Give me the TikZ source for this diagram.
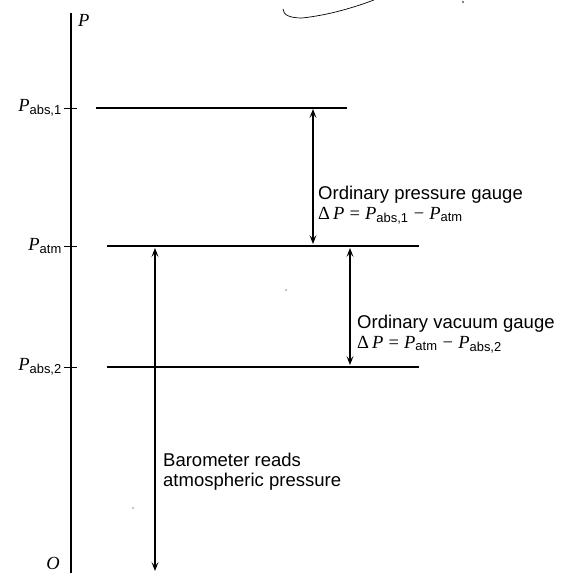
\documentclass[tikz,border=0pt]{standalone}
\usepackage{fontspec}
\setmainfont{Liberation Sans}
\newfontfamily\serifP{Liberation Serif}
\usetikzlibrary{arrows.meta}
\newcommand\Pv{{\serifP\itshape P}}
\newcommand\PP[1]{\Pv\textsubscript{#1}}
\newcommand\mrel[1]{{\serifP #1}}
\begin{document}
\begin{tikzpicture}[x=1pt,y=-1pt,
  level/.style={line width=1.7pt},
  axisline/.style={line width=1.2pt},
  tickmark/.style={line width=0.9pt},
  gauge/.style={line width=1.1pt,{Stealth[length=9pt,width=7pt,inset=4pt]}-{Stealth[length=9pt,width=7pt,inset=4pt]}},
  lbl/.style={font=\fontsize{18.5}{20}\selectfont, inner sep=0pt},
  axlbl/.style={font=\fontsize{18.5}{20}\selectfont, inner sep=0pt, anchor=east}]
\useasboundingbox (0,0) rectangle (566,573);
% axis
\coordinate (axtop) at (71,13);
\coordinate (axbot) at (71,573);
\draw[axisline] (axtop) -- (axbot);
\node[lbl, anchor=west] (Plbl) at (78,20) {\Pv};
% levels
\coordinate (p1L) at (96,108);   \coordinate (p1R) at (347,108);
\coordinate (paL) at (107,246);  \coordinate (paR) at (419,246);
\coordinate (p2L) at (107,367);  \coordinate (p2R) at (419,367);
\draw[level] (p1L) -- (p1R);
\draw[level] (paL) -- (paR);
\draw[level] (p2L) -- (p2R);
% ticks
\foreach \yy in {108,246,367} \draw[tickmark] (64,\yy) -- (77,\yy);
\node[axlbl] (l1) at (62,108) {\PP{abs,1}};
\node[axlbl] (la) at (62,246) {\PP{atm}};
\node[axlbl] (l2) at (62,367) {\PP{abs,2}};
\node[axlbl] (lO) at (60,563) {{\serifP\itshape O}};
% gauge arrows
\coordinate (g1t) at (313,109); \coordinate (g1b) at (313,244);
\draw[gauge] (g1t) -- (g1b);
\coordinate (g2t) at (350,248); \coordinate (g2b) at (350,365);
\draw[gauge] (g2t) -- (g2b);
\coordinate (g3t) at (155,248); \coordinate (g3b) at (155,571);
\draw[gauge] (g3t) -- (g3b);
% texts
\node[lbl, anchor=west, align=left] (t1) at (318,205) {Ordinary pressure gauge\\ \mrel{Δ}\,\Pv\ \mrel{=} \PP{abs,1} \mrel{−} \PP{atm}};
\node[lbl, anchor=west, align=left] (t2) at (357,334) {Ordinary vacuum gauge\\ \mrel{Δ}\,\Pv\ \mrel{=} \PP{atm} \mrel{−} \PP{abs,2}};
\node[lbl, anchor=west, align=left] (t3) at (163,472) {Barometer reads\\ atmospheric pressure};
% scan marks
\draw[line width=0.7pt] (283,9) .. controls (283,15) and (290,18) .. (302,18) .. controls (330,15) and (355,7) .. (374,0);
\fill (463,2) circle (0.8pt);
\fill (286,290) circle (0.7pt);
\fill (133,508) circle (0.7pt);
\end{tikzpicture}
\end{document}
